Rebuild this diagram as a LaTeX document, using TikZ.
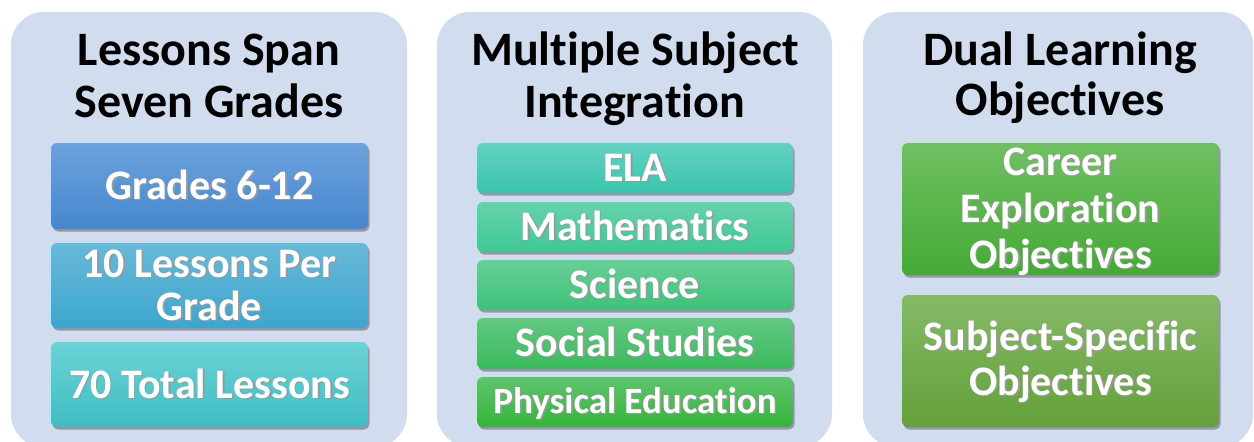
\documentclass[tikz,border=0pt]{standalone}
\usepackage{fontspec}
\setmainfont[Ligatures={NoCommon}]{Carlito}
\usetikzlibrary{shadows}
\definecolor{panelbg}{RGB}{209,220,238}
\definecolor{b1t}{RGB}{108,162,221}\definecolor{b1b}{RGB}{70,135,205}
\definecolor{b2t}{RGB}{104,185,216}\definecolor{b2b}{RGB}{60,166,206}
\definecolor{b3t}{RGB}{108,210,214}\definecolor{b3b}{RGB}{62,190,194}
\definecolor{m1t}{RGB}{100,210,192}\definecolor{m1b}{RGB}{58,196,172}
\definecolor{m2t}{RGB}{104,210,172}\definecolor{m2b}{RGB}{62,200,148}
\definecolor{m3t}{RGB}{104,206,152}\definecolor{m3b}{RGB}{62,194,120}
\definecolor{m4t}{RGB}{98,200,132}\definecolor{m4b}{RGB}{58,186,92}
\definecolor{m5t}{RGB}{94,196,112}\definecolor{m5b}{RGB}{54,180,58}
\definecolor{r1t}{RGB}{112,192,98}\definecolor{r1b}{RGB}{68,170,52}
\definecolor{r2t}{RGB}{132,186,102}\definecolor{r2b}{RGB}{100,160,58}
\newcommand{\shtx}[1]{\rlap{\kern1.6pt\raisebox{-1.6pt}{\textcolor{black!40}{#1}}}#1}
\tikzset{
  panel/.style={fill=panelbg, rounded corners=33pt},
  tile/.style={rounded corners=6pt, drop shadow={shadow xshift=1.5pt, shadow yshift=-2.5pt, opacity=0.3, fill=black}},
  ttl/.style={anchor=base, font=\fontsize{48}{52}\selectfont\bfseries, text=black, inner sep=0pt},
  lbl/.style={anchor=base, text=white, inner sep=0pt, font=\fontsize{42}{45}\selectfont\bfseries},
}
\begin{document}
\begin{tikzpicture}[x=1pt,y=-1pt]
\useasboundingbox (0,0) rectangle (1254,442);
\clip (0,0) rectangle (1254,442);
% panels
\fill[panel] (11,12) rectangle (407,447);
\fill[panel] (437,12) rectangle (832,447);
\fill[panel] (863,12) rectangle (1253,447);
% titles
\node[ttl] (t1a) at (209,65) {Lessons Span};
\node[ttl] (t1b) at (209,117) {Seven Grades};
\node[ttl] (t2a) at (635,65) {Multiple Subject};
\node[ttl] (t2b) at (635,117) {Integration};
\node[ttl] (t3a) at (1060,65) {Dual Learning};
\node[ttl] (t3b) at (1060,115) {Objectives};
% column 1 tiles
\shade[tile, top color=b1t, bottom color=b1b] (51,143) rectangle (368,229);
\shade[tile, top color=b2t, bottom color=b2b] (51,243) rectangle (368,328);
\shade[tile, top color=b3t, bottom color=b3b] (51,342) rectangle (368,427);
\node[lbl] (g1) at (209.5,199) {\shtx{Grades 6-12}};
\node[lbl] (g2a) at (209.5,277) {\shtx{10 Lessons Per}};
\node[lbl] (g2b) at (209.5,320) {\shtx{Grade}};
\node[lbl] (g3) at (209.5,398) {\shtx{70 Total Lessons}};
% column 2 tiles
\shade[tile, top color=m1t, bottom color=m1b] (477,143) rectangle (793,193);
\shade[tile, top color=m2t, bottom color=m2b] (477,202) rectangle (793,252);
\shade[tile, top color=m3t, bottom color=m3b] (477,260) rectangle (793,310);
\shade[tile, top color=m4t, bottom color=m4b] (477,318) rectangle (793,369);
\shade[tile, top color=m5t, bottom color=m5b] (477,377) rectangle (793,427);
\node[lbl] (s1) at (635,181) {\shtx{ELA}};
\node[lbl] (s2) at (635,240) {\shtx{Mathematics}};
\node[lbl] (s3) at (635,298) {\shtx{Science}};
\node[lbl] (s4) at (635,356) {\shtx{Social Studies}};
\node[lbl, font=\fontsize{37}{40}\selectfont\bfseries] (s5) at (635,413) {\shtx{Physical Education}};
% column 3 tiles
\shade[tile, top color=r1t, bottom color=r1b] (902,143) rectangle (1219,275);
\shade[tile, top color=r2t, bottom color=r2b] (902,295) rectangle (1219,427);
\node[lbl] (o1a) at (1060.5,175) {\shtx{Career}};
\node[lbl] (o1b) at (1060.5,222) {\shtx{Exploration}};
\node[lbl] (o1c) at (1060.5,268) {\shtx{Objectives}};
\node[lbl] (o2a) at (1060.5,350) {\shtx{Subject-Specific}};
\node[lbl] (o2b) at (1060.5,395) {\shtx{Objectives}};
\end{tikzpicture}
\end{document}
